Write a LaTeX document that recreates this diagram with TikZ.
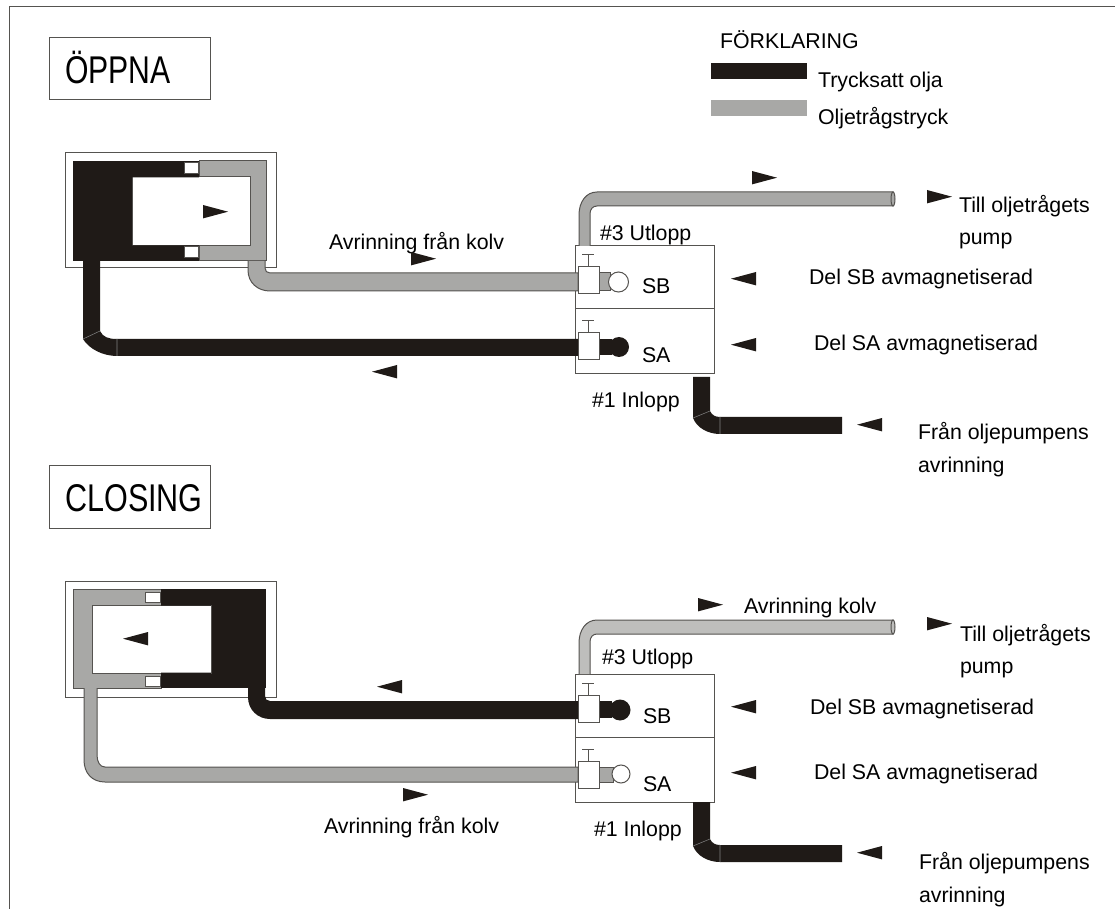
\documentclass[tikz,border=0pt]{standalone}
\usepackage{fontspec}
\setmainfont{Liberation Sans}
\definecolor{oilblack}{HTML}{1F1A17}
\definecolor{oilgray}{HTML}{A8A8A6}
\definecolor{oillight}{HTML}{BEBEBC}
\definecolor{edge}{HTML}{555350}
\tikzset{
  lbl/.style={anchor=base west,inner sep=0pt,outer sep=0pt,font=\fontsize{16}{19}\selectfont,text=black},
  titlebox/.style={draw=edge,line width=0.75pt,fill=white,minimum width=120.75pt,minimum height=46.5pt,inner sep=0pt,outer sep=0pt},
  hot/.style={fill=oilblack,draw=none},
  cold/.style={fill=oilgray,draw=edge,line width=0.75pt},
  coldlight/.style={fill=oillight,draw=edge,line width=0.75pt},
  thin box/.style={draw=edge,line width=0.75pt,fill=white},
  seam/.style={draw=gray,line width=0.4pt},
  tri/.style={fill=oilblack,draw=none}
}
% right pointing / left pointing arrowheads: left x, top y
\newcommand{\arrR}[2]{\fill[tri] (#1,#2) -- ++(25,6.7) -- ++(-25,6.7) -- cycle;}
\newcommand{\arrL}[2]{\fill[tri] (#1+25,#2) -- ++(-25,6.7) -- ++(25,6.7) -- cycle;}
% valve: top y of the body
\newcommand{\valve}[1]{%
  \draw[thin box] (578,#1) rectangle (599,#1+27);
  \draw[edge,line width=0.75pt] (588,#1) -- (588,#1-12) (582,#1-12) -- (594,#1-12);}
\begin{document}
\begin{tikzpicture}[x=0.75pt,y=-0.75pt]
\useasboundingbox (0,0) rectangle (1115,909);
\fill[white] (0,0) rectangle (1115,909);
% sheet edge
\draw[edge,line width=0.75pt] (9,909) -- (9,6.5) -- (1115,6.5);
% titles
\node[titlebox] (open) at (129.5,69) {};
\node[anchor=base west,inner sep=0pt,font=\fontsize{29}{32}\selectfont] (openT) at (65,84) {\scalebox{0.78}[1]{ÖPPNA}};
\node[titlebox] (close) at (129.5,497) {};
\node[anchor=base west,inner sep=0pt,font=\fontsize{29}{32}\selectfont] (closeT) at (65,512) {\scalebox{0.79}[1]{CLOSING}};
% legend
\node[lbl] (legT) at (720,49) {FÖRKLARING};
\fill[oilblack] (711,63) rectangle (807,79);
\node[lbl] (legA) at (818,88) {Trycksatt olja};
\fill[oilgray] (711,100) rectangle (807,116);
\node[lbl] (legB) at (818,125) {Oljetrågstryck};

%%%%%%%%%%%%% UPPER DIAGRAM
\draw[thin box] (65,153) rectangle (276,268);
\fill[oilblack] (73,161) rectangle (199,261);
\draw[cold] (199,161) rectangle (266,261);
\draw[thin box] (132,177) rectangle (250,246);
\fill[oilblack] (132,176) rectangle (199,177.5) (132,245.5) rectangle (199,247);
\draw[thin box] (184,163) rectangle (198,174);
\draw[thin box] (184,247) rectangle (198,258);
\arrR{203}{205}
% valve block
\draw[thin box] (575,246) rectangle (714,374);
\draw[edge,line width=0.75pt] (575,309) -- (714,309);
% pipes
\draw[cold] (248,261) -- (248,270) .. controls (248,283) and (258,291) .. (270,291) -- (578,291) -- (578,273) -- (270,273) .. controls (267,273) and (265,271) .. (265,268) -- (265,261);
\fill[hot] (83,261) -- (83,339) .. controls (89,349) and (103,356) .. (117,356) -- (578,356) -- (578,339) -- (117,339) .. controls (108,339) and (103,337) .. (100,331) -- (100,261) -- cycle;
\draw[seam] (83,339) -- (100,331) (117,339) -- (117,356);
% SB / SA ports
\draw[cold] (599,273) rectangle (610,291);
\draw[thin box] (618.5,282) circle (10);
\fill[oilblack] (599,339) rectangle (612,355);
\fill[oilblack] (619,347) circle (10);
\valve{267}
\valve{333}
% outlet
\draw[cold] (579,246) -- (579,215) .. controls (579,202) and (586,192) .. (597,192) -- (893,192) -- (893,206) -- (597,206) .. controls (593,206) and (590,209) .. (590,214) -- (590,246);
\draw[edge,line width=0.75pt,fill=oilgray] (893,199) ellipse (2 and 7);
% inlet
\fill[hot] (693,377) -- (693,418) .. controls (697,428) and (708,434) .. (720,434) -- (842,434) -- (842,417) -- (720,417) .. controls (715,417) and (712,415) .. (710,411) -- (710,377) -- cycle;
\draw[seam] (693,418) -- (710,411) (720,417) -- (720,434);
% labels
\node[lbl] (a1) at (329,250) {Avrinning från kolv};
\arrR{411}{252}
\arrL{372}{365}
\arrR{752}{171}
\arrR{927}{190}
\arrL{731}{272}
\arrL{731}{338}
\arrL{857}{418}
\node[lbl] (a2) at (600,241) {\#3 Utlopp};
\node[lbl] (a3) at (642,294) {SB};
\node[lbl] (a4) at (642,363) {SA};
\node[lbl] (a5) at (592,408) {\#1 Inlopp};
\node[lbl] (a6) at (809,285) {Del SB avmagnetiserad};
\node[lbl] (a7) at (814,351) {Del SA avmagnetiserad};
\node[lbl] (a8) at (959,213) {Till oljetrågets};
\node[lbl] (a9) at (959,245) {pump};
\node[lbl] (a10) at (918,440) {Från oljepumpens};
\node[lbl] (a11) at (918,473) {avrinning};

%%%%%%%%%%%%% LOWER DIAGRAM
\draw[thin box] (65,581) rectangle (276,697);
\draw[cold] (73,589) rectangle (161,688);
\fill[oilblack] (161,589) rectangle (266,688);
\draw[thin box] (92,605) rectangle (211,673);
\fill[oilblack] (161,604) rectangle (211,605.5) (161,672.5) rectangle (211,674);
\draw[thin box] (145,592) rectangle (160,602);
\draw[thin box] (145,676) rectangle (160,686);
\arrL{123}{632}
% valve block
\draw[thin box] (575,674) rectangle (714,802);
\draw[edge,line width=0.75pt] (575,737) -- (714,737);
% pipes
\fill[hot] (248,688) -- (248,697) .. controls (248,710) and (258,719) .. (270,719) -- (578,719) -- (578,701) -- (270,701) .. controls (267,701) and (265,699) .. (265,696) -- (265,688) -- cycle;
\draw[cold] (84,688) -- (84,760) .. controls (84,773) and (92,782) .. (105,782) -- (578,782) -- (578,767) -- (105,767) .. controls (100,767) and (97,762) .. (97,755) -- (97,688);
% SB / SA ports
\fill[oilblack] (599,701) rectangle (612,718);
\fill[oilblack] (620,710) circle (10.5);
\draw[cold] (599,767) rectangle (613,782);
\draw[thin box] (621,774) circle (9);
\valve{695}
\valve{761}
% outlet
\draw[coldlight] (579,674) -- (579,643) .. controls (579,630) and (586,620) .. (597,620) -- (893,620) -- (893,634) -- (597,634) .. controls (593,634) and (590,637) .. (590,642) -- (590,674);
\draw[edge,line width=0.75pt,fill=oillight] (893,627) ellipse (2 and 7);
% inlet
\fill[hot] (693,802) -- (693,846) .. controls (697,856) and (708,862) .. (720,862) -- (842,862) -- (842,845) -- (720,845) .. controls (715,845) and (712,843) .. (710,839) -- (710,802) -- cycle;
\draw[seam] (693,846) -- (710,839) (720,845) -- (720,862);
% labels
\node[lbl] (b1) at (324,833) {Avrinning från kolv};
\node[lbl] (b2) at (744,613) {Avrinning kolv};
\arrR{698}{598}
\arrR{927}{617}
\arrL{377}{680}
\arrR{403}{788}
\arrL{731}{700}
\arrL{731}{766}
\arrL{857}{846}
\node[lbl] (b3) at (602,664) {\#3 Utlopp};
\node[lbl] (b4) at (643,723) {SB};
\node[lbl] (b5) at (643,791) {SA};
\node[lbl] (b6) at (594,836) {\#1 Inlopp};
\node[lbl] (b7) at (810,714) {Del SB avmagnetiserad};
\node[lbl] (b8) at (814,779) {Del SA avmagnetiserad};
\node[lbl] (b9) at (960,641) {Till oljetrågets};
\node[lbl] (b10) at (960,673) {pump};
\node[lbl] (b11) at (919,869) {Från oljepumpens};
\node[lbl] (b12) at (919,902) {avrinning};
\end{tikzpicture}
\end{document}
